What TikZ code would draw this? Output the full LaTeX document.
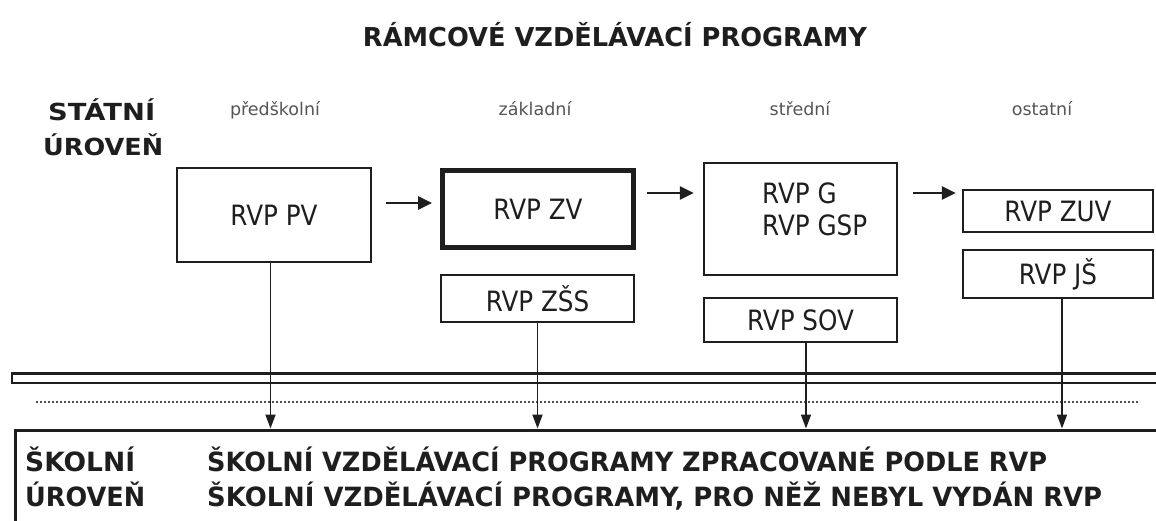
\documentclass[tikz,border=0pt]{standalone}
\usepackage{fontspec}
\setmainfont{DejaVu Sans}
\usetikzlibrary{arrows.meta}
\newcommand\fitto[2]{\resizebox{#1}{\height}{#2}}
\newcommand\bt[1]{\scalebox{0.88}[1]{#1}}
\definecolor{lbl}{HTML}{555555}
\definecolor{ink}{HTML}{1E1E1E}
\tikzset{
  box/.style={draw=ink, line width=2.4pt, minimum width=#1, inner sep=0pt, font=\fontsize{28}{32}\selectfont, text=ink},
  harr/.style={line width=2.6pt, draw=ink, -{Triangle[length=14pt,width=13pt]}},
  varr/.style={line width=1.8pt, draw=ink, -{Triangle[length=14pt,width=10pt]}},
  lvl/.style={font=\fontsize{17.5}{20}\selectfont, text=lbl},
  bold/.style={font=\bfseries\fontsize{26.5}{30}\selectfont, anchor=base west, inner sep=0pt, text=ink},
}
\begin{document}
\begin{tikzpicture}[x=1pt,y=-1pt]
\useasboundingbox (0,0) rectangle (1156,520);
% title
\node[font=\bfseries\fontsize{26}{30}\selectfont, anchor=base, inner sep=0pt, text=ink] (title) at (615,46) {\fitto{504pt}{RÁMCOVÉ VZDĚLÁVACÍ PROGRAMY}};
% state level
\node[font=\bfseries\fontsize{23.5}{26}\selectfont, anchor=base west, inner sep=0pt, text=ink] (st1) at (48,120) {\fitto{107pt}{STÁTNÍ}};
\node[font=\bfseries\fontsize{23.5}{26}\selectfont, anchor=base west, inner sep=0pt, text=ink] (st2) at (43,155) {\fitto{120pt}{ÚROVEŇ}};
% column labels
\node[lvl, anchor=base] (l1) at (275,115) {předškolní};
\node[lvl, anchor=base] (l2) at (535,115) {základní};
\node[lvl, anchor=base] (l3) at (800,115) {střední};
\node[lvl, anchor=base] (l4) at (1042,115) {ostatní};
% boxes
\node[box=194pt, minimum height=94pt] (pv) at (274,215) {\bt{RVP PV}};
\node[box=191pt, minimum height=77pt, line width=5pt] (zv) at (538,209) {\bt{RVP ZV}};
\node[box=193pt, minimum height=47pt] (zss) at (537.5,298.5) {\bt{RVP ZŠS}};
\node[box=193pt, minimum height=112pt] (g) at (800.5,219) {};
\node[font=\fontsize{28}{32}\selectfont, text=ink, anchor=base west, inner sep=0pt] (gtext1) at (762,203) {\bt{RVP G}};
\node[font=\fontsize{28}{32}\selectfont, text=ink, anchor=base west, inner sep=0pt] (gtext2) at (762,235) {\bt{RVP GSP}};
\node[box=193pt, minimum height=44pt] (sov) at (800.5,320) {\bt{RVP SOV}};
\node[box=190pt, minimum height=42pt] (zuv) at (1058,211) {\bt{RVP ZUV}};
\node[box=190pt, minimum height=48pt] (js) at (1058,274) {\bt{RVP JŠ}};
% horizontal arrows
\draw[harr, shorten <=14pt, shorten >=8pt] ([yshift=12pt]pv.east) -- ([yshift=6pt]zv.west);
\draw[harr, shorten <=11pt, shorten >=9pt] ([yshift=16pt]zv.east) -- ([yshift=26pt]g.west);
\draw[harr, shorten <=15pt, shorten >=6pt] ([yshift=26pt]g.east) -- ([yshift=18pt]zuv.west);
% separators
\draw[line width=2.6pt, draw=ink] (12,373.5) rectangle (1170,383);
\draw[line width=2pt, draw=black!70, dash pattern=on 2pt off 2pt] (36,401.5) -- (1140,401.5);
% school level box
\node[draw=ink, line width=3pt, anchor=north west, minimum width=1160pt, minimum height=110pt, inner sep=0pt] (school) at (13.5,428.5) {};
\node[bold] (sk1) at (25,471) {\fitto{110pt}{ŠKOLNÍ}};
\node[bold] (sk2) at (25,506) {\fitto{120pt}{ÚROVEŇ}};
\node[bold] (t1) at (207,471) {\fitto{840pt}{ŠKOLNÍ VZDĚLÁVACÍ PROGRAMY ZPRACOVANÉ PODLE RVP}};
\node[bold] (t2) at (207,506) {\fitto{895pt}{ŠKOLNÍ VZDĚLÁVACÍ PROGRAMY, PRO NĚŽ NEBYL VYDÁN RVP}};
% vertical arrows
\draw[varr] ([xshift=-3.5pt]pv.south) -- ([xshift=-3.5pt]pv.south |- school.north);
\draw[varr] (zss.south) -- (zss.south |- school.north);
\draw[varr] ([xshift=5.5pt]sov.south) -- ([xshift=5.5pt]sov.south |- school.north);
\draw[varr] ([xshift=4pt]js.south) -- ([xshift=4pt]js.south |- school.north);
\end{tikzpicture}
\end{document}
